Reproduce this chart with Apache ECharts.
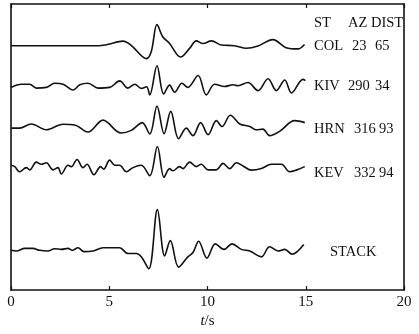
<!DOCTYPE html>
<html><head><meta charset="utf-8">
<script src="https://cdn.jsdelivr.net/npm/echarts@6/dist/echarts.min.js"></script>
<style>html,body{margin:0;padding:0;background:#fff}#c{width:419px;height:334px}</style>
</head><body><div id="c"></div>
<script>
// station table
var stations = ['COL', 'KIV', 'HRN', 'KEV', 'STACK'];
var azimuths = ['23', '290', '316', '332', ''];
var distances = ['65', '34', '93', '94', ''];
var offsets = [252, 209, 167, 128, 41];
var xTicks = [0, 5, 10, 15, 20];

// waveforms: [t (s), amplitude]
var colT = [0,4.43,4.9,5.7,6.1,6.9,7.14,7.43,7.73,8.07,8.63,9.09,9.43,9.77,10.2,10.7,11.38,11.98,12.57,13.33,14.0,14.6,14.94];
var colA = [0,0,1.2,4.7,0.7,-13.3,-6,21.7,9,2.3,-11.7,-2.7,5,2.3,5,0.7,0,-2.7,-0.3,6.3,-2,-3.3,1.3];

var kivT = [0,0.53,0.95,1.29,1.8,2.22,2.65,3.16,3.5,3.92,4.43,5.02,5.53,5.95,6.3,6.63,6.9,7.06,7.43,7.77,8.07,8.33,8.7,9.0,9.52,9.94,10.36,10.87,11.3,11.55,12.06,12.57,13.08,13.5,13.93,14.27,14.86,14.98];
var kivA = [0,3.3,3.3,-0.7,0,4.3,3.3,-2.7,2.7,4.3,-0.7,0,6.7,-0.7,3.3,-1,0.7,-7.7,22.3,-6.7,2.3,-5,4.3,0,12.3,-7.7,3.3,1,2.7,1.7,5,-3.3,9,-3.3,7.7,-5.7,8.3,7];

var hrnT = [0,0.44,1.03,1.8,2.65,3.24,3.92,4.68,5.6,6.12,6.68,7.06,7.43,7.79,8.13,8.53,8.92,9.26,9.65,10.03,10.45,10.74,11.16,11.64,12.15,12.49,12.82,13.16,13.67,14.44,14.95];
var hrnA = [0,0,4.3,-1.7,4,3.3,-4,8.3,-5,-2.3,5.7,-6,22.7,-5.7,17.3,-11,0,-7.7,5.7,-6.7,7.7,1.7,13.3,4.3,1.7,-1.7,-1,-7.7,-3.3,7.7,5.7];

var kevT = [0,0.19,0.44,0.78,0.95,1.29,1.54,1.8,2.14,2.39,2.56,2.9,3.07,3.36,3.66,3.87,4.22,4.56,4.72,5.02,5.28,5.53,5.87,6.21,6.63,7.06,7.45,7.79,8.07,8.24,8.58,8.75,9.09,9.43,9.68,10.03,10.45,10.79,11.13,11.47,11.81,12.23,12.74,13.25,13.76,14.18,14.52,14.95];
var kevA = [0.7,-0.7,-6,-1.7,-4,4,1.7,3.3,-4,-1.7,-8.3,0.7,-0.7,6.7,-1.7,1.7,-9,-0.7,-3.3,6,0.7,0.7,-6,-1.7,0.7,-10,20,-11.7,-2.7,-5,-0.7,-2.7,4,-0.7,1.7,-4,-4,2.7,-2.7,3.3,0,-4.3,-2.7,1.7,1.7,-6,-4.3,-0.7];

var stackT = [0,0.27,0.7,1.12,1.46,1.88,2.22,2.56,2.9,3.12,3.41,3.71,4.17,4.68,5.19,5.53,5.95,6.38,6.63,7.01,7.45,7.82,8.11,8.53,9.0,9.26,9.55,9.97,10.4,10.84,11.25,11.72,12.15,12.74,13.16,13.59,13.93,14.3,14.9];
var stackA = [0,-0.7,2,2,0,-0.7,1.7,1,2,0,2.7,-1.3,-0.7,2.7,2.7,2.7,-3.3,-3.3,-6.7,-19,42,-5.7,10,-17.3,-6.7,-2.3,9.3,-8,6.7,1,6.7,1,-0.7,-6.7,3.7,-0.7,1,-4,6];

var traceT = [colT, kivT, hrnT, kevT, stackT];
var traceA = [colA, kivA, hrnA, kevA, stackA];

var serif = 'Liberation Serif, Times New Roman, serif';
var series = traceT.map(function (ts, i) {
  return {
    type: 'line', smooth: 0.35, showSymbol: false, silent: true,
    lineStyle: { color: '#111', width: 1.6 },
    data: ts.map(function (t, j) { return [t, traceA[i][j] + offsets[i]]; })
  };
});

var chart = echarts.init(document.getElementById('c'));
chart.setOption({
  animation: false,
  backgroundColor: '#fff',
  grid: { left: 11, right: 15, top: 4, bottom: 35 },
  xAxis: [{
    type: 'value', min: xTicks[0], max: xTicks[xTicks.length - 1], interval: 5, position: 'bottom',
    axisLine: { onZero: false, lineStyle: { color: '#111', width: 1.6 } },
    axisTick: { inside: true, length: 4, lineStyle: { color: '#111', width: 1.2 } },
    axisLabel: { color: '#111', fontFamily: serif, fontSize: 15, margin: 4 },
    splitLine: { show: false },
    name: '{i|t}/s', nameLocation: 'middle', nameGap: 19,
    nameTextStyle: { color: '#111', fontFamily: serif, fontSize: 15,
      rich: { i: { fontStyle: 'italic', fontFamily: serif, fontSize: 15, color: '#111' } } }
  }, {
    type: 'value', min: 0, max: 20, interval: 5, position: 'top',
    axisLine: { onZero: false, lineStyle: { color: '#111', width: 1.6 } },
    axisTick: { inside: true, length: 4, lineStyle: { color: '#111', width: 1.2 } },
    axisLabel: { show: false }, splitLine: { show: false }
  }],
  yAxis: [{
    type: 'value', min: 0, max: 295, position: 'left',
    axisLine: { show: true, onZero: false, lineStyle: { color: '#111', width: 1.6 } },
    axisTick: { show: false }, axisLabel: { show: false }, splitLine: { show: false }
  }, {
    type: 'value', min: 0, max: 295, position: 'right',
    axisLine: { show: true, onZero: false, lineStyle: { color: '#111', width: 1.6 } },
    axisTick: { show: false }, axisLabel: { show: false }, splitLine: { show: false }
  }],
  series: series
});

// label layout (pixels)
var rowY = [46, 86, 129, 173, 252];
var azX = [352, 348, 354, 354];
var distX = [375, 375, 379, 379];
var txt = [];
function addText(s, x, y) {
  txt.push({ type: 'text', x: x, y: y,
    style: { text: s, fill: '#111', font: '14.5px ' + serif, textAlign: 'left', textVerticalAlign: 'middle' } });
}
addText('ST', 314, 23);
addText('AZ', 348, 23);
addText('DIST', 371, 23);
for (var i = 0; i < stations.length; i++) {
  if (stations[i] === 'STACK') { addText(stations[i], 330, rowY[i]); continue; }
  addText(stations[i], 314, rowY[i]);
  addText(azimuths[i], azX[i], rowY[i]);
  addText(distances[i], distX[i], rowY[i]);
}
chart.setOption({ graphic: txt });
</script></body></html>
